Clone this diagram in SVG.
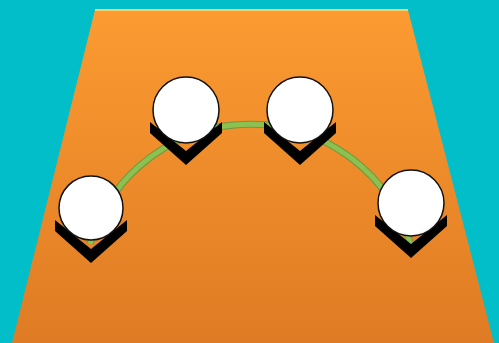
<svg xmlns="http://www.w3.org/2000/svg" width="499" height="343" viewBox="0 0 499 343">
  <defs>
    <linearGradient id="plane" x1="0" y1="0" x2="0" y2="1">
      <stop offset="0" stop-color="#FB9B31"/>
      <stop offset="1" stop-color="#DF7B24"/>
    </linearGradient>
    <radialGradient id="ball" cx="0.45" cy="0.4" r="0.65">
      <stop offset="0" stop-color="#FFFFFF"/>
      <stop offset="0.85" stop-color="#FFFFFF"/>
      <stop offset="1" stop-color="#F0F0F0"/>
    </radialGradient>
    <polygon id="chev" points="-36,12 -36,23 0,55 36,23 36,12 0,41" fill="#000"/>
  </defs>
  <style>
    .node circle { fill: url(#ball); stroke: #111; stroke-width: 1.5; }
    .link-edge { fill: none; stroke: #6A9A3C; stroke-width: 7; }
    .link { fill: none; stroke: #8CC152; stroke-width: 5; }
  </style>
  <rect x="0" y="0" width="499" height="343" fill="#02BEC9"/>
  <polygon points="95,10 408,10 494,343 12,343" fill="url(#plane)"/>
  <line x1="95" y1="10" x2="408" y2="10" stroke="#F7CE6E" stroke-width="2"/>
  <g id="connectors">
    <path class="link-edge" d="M 90 244 A 167 167 0 0 1 411 246"/>
    <path class="link" d="M 90 244 A 167 167 0 0 1 411 246"/>
  </g>
  <g id="node1" class="node">
    <use href="#chev" x="91" y="208"/>
    <circle cx="91" cy="208" r="32"/>
  </g>
  <g id="node2" class="node">
    <use href="#chev" x="186" y="110"/>
    <circle cx="186" cy="110" r="33"/>
  </g>
  <g id="node3" class="node">
    <use href="#chev" x="300" y="110"/>
    <circle cx="300" cy="110" r="33"/>
  </g>
  <g id="node4" class="node">
    <use href="#chev" x="411" y="203"/>
    <circle cx="411" cy="203" r="33"/>
  </g>
</svg>
